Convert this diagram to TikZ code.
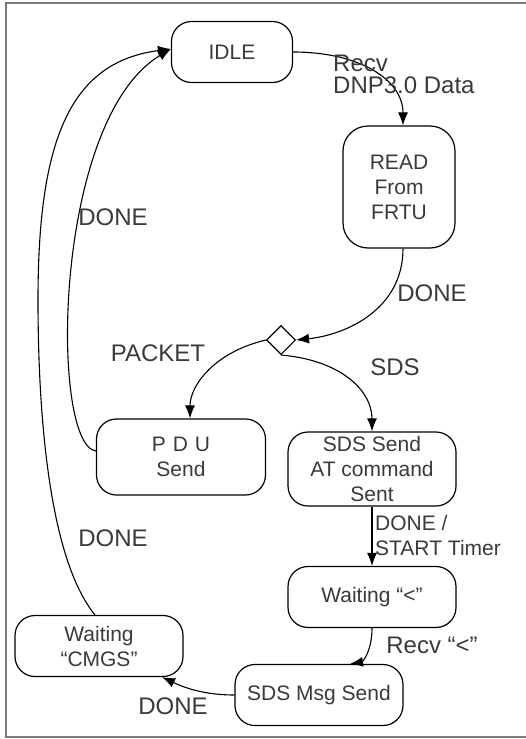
\documentclass[tikz,border=0pt]{standalone}
\usepackage{fontspec}
\setmainfont{Liberation Sans}
\usetikzlibrary{arrows.meta,shapes.geometric}
\definecolor{txt}{HTML}{3A3A3A}
\definecolor{frame}{HTML}{7A7A7A}
\begin{document}
\begin{tikzpicture}[x=1pt,y=-1pt,
  state/.style={draw=black,line width=1.2pt,rounded corners=20pt,align=center,
    font=\fontsize{21}{25}\selectfont,text=txt,inner sep=0pt},
  lbl/.style={font=\fontsize{24}{22}\selectfont,text=txt,inner sep=0pt},
  slbl/.style={font=\fontsize{21}{25}\selectfont,text=txt,inner sep=0pt},
  conn/.style={line width=1.1pt,-{Latex[length=13pt,width=10pt]}},
  plain/.style={line width=1.1pt}]
\useasboundingbox (0,0) rectangle (526,739);
% frame
\draw[frame,line width=2pt] (526,3) -- (6,3) -- (6,737) -- (526,737);
% nodes
\node[state,minimum width=121pt,minimum height=61pt] (idle) at (232,52) {IDLE};
\node[state,minimum width=112pt,minimum height=122pt,rounded corners=25pt] (read) at (399,187) {READ\\From\\FRTU};
\node[draw=black,line width=1.1pt,diamond,minimum width=29pt,minimum height=29pt,inner sep=0pt] (dec) at (281,340) {};
\node[state,minimum width=169pt,minimum height=76pt] (pdu) at (181,457) {P\,\,D\,\,U\\Send};
\node[state,minimum width=168pt,minimum height=74pt] (sds) at (372,469) {SDS Send\\AT command\\Sent};
\node[state,minimum width=168pt,minimum height=61pt] (wlt) at (372,597) {Waiting “<”};
\node[state,minimum width=168pt,minimum height=61pt] (cmgs) at (99,646) {Waiting\\“CMGS”};
\node[state,minimum width=168pt,minimum height=61pt] (msg) at (319,695) {SDS Msg Send};
% connectors
\draw[conn] (idle.east) .. controls (360,52) and (403,80) .. ([xshift=4pt]read.north);
\draw[conn] ([xshift=4pt]read.south) .. controls (403,310) and (345,335) .. (dec.east);
\draw[conn] (dec.west) .. controls (215,352) and (190,385) .. ([xshift=9pt]pdu.north);
\draw[conn] (dec.south) .. controls (340,360) and (372,390) .. (sds.north);
\draw[conn] (sds.south) -- (wlt.north);
\draw[conn] (wlt.south) .. controls (372,652) and (362,662) .. ([xshift=31pt]msg.north);
\draw[conn] (msg.west) .. controls (205,695) and (185,688) .. ([xshift=63pt]cmgs.south);
\draw[conn] ([yshift=6pt]pdu.west) .. controls (50,445) and (52,120) .. ([yshift=3pt]idle.west);
\draw[conn] ([xshift=-4pt]cmgs.north) .. controls (50,560) and (38,420) .. (38,300)
   .. controls (38,140) and (70,62) .. ([yshift=3pt]idle.west);
% labels
\node[lbl,anchor=west,align=left] (l1) at (333,74) {Recv\\DNP3.0 Data};
\node[lbl] (l2) at (432,293) {DONE};
\node[lbl] (l3) at (158,353) {PACKET};
\node[lbl] (l4) at (395,367) {SDS};
\node[slbl,anchor=west,align=left] (l5) at (375,535) {DONE /\\START Timer};
\node[lbl] (l6) at (432,645) {Recv “<”};
\node[lbl] (l7) at (173,706) {DONE};
\node[lbl] (l8) at (113,217) {DONE};
\node[lbl] (l9) at (113,538) {DONE};
\end{tikzpicture}
\end{document}
